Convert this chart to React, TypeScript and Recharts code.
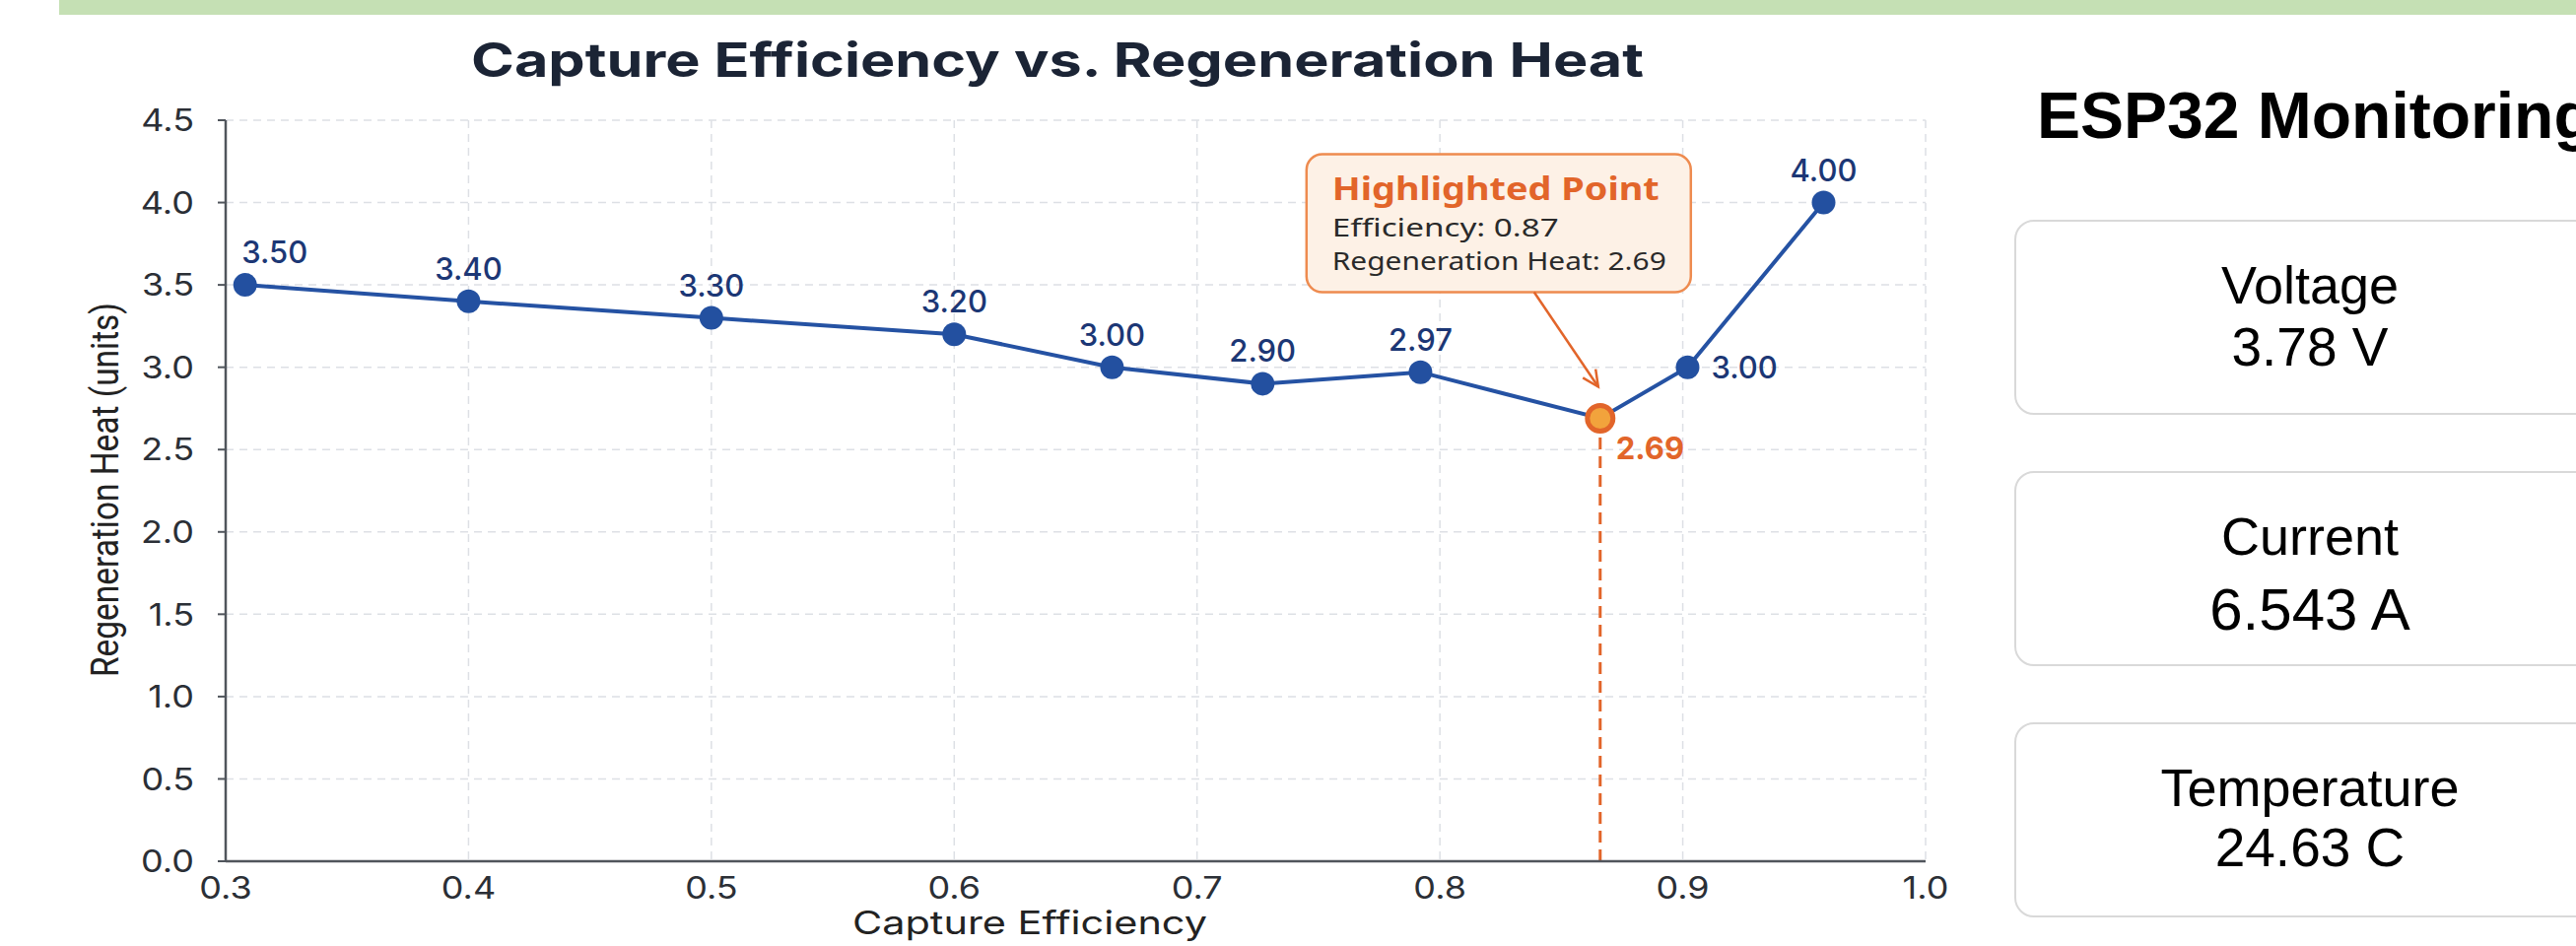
import {
  LineChart, Line, XAxis, YAxis, CartesianGrid, ReferenceLine, ReferenceDot,
} from 'recharts'

// ==================== Data ====================

const EFFICIENCY = [0.308, 0.4, 0.5, 0.6, 0.665, 0.727, 0.792, 0.866, 0.902, 0.958]
const REGEN_HEAT = [3.5, 3.4, 3.3, 3.2, 3.0, 2.9, 2.97, 2.69, 3.0, 4.0]
const X_TICKS = [0.3, 0.4, 0.5, 0.6, 0.7, 0.8, 0.9, 1.0]
const Y_TICKS = [0, 0.5, 1, 1.5, 2, 2.5, 3, 3.5, 4, 4.5]
const HIGHLIGHT_INDEX = 7

const READING_LABELS = ['Voltage', 'Current', 'Temperature']
const READING_VALUES = ['3.78 V', '6.543 A', '24.63 C']

const chartData = EFFICIENCY.map((e, i) => ({ efficiency: e, heat: REGEN_HEAT[i] }))
const highlight = chartData[HIGHLIGHT_INDEX]

// ==================== Styles ====================

const NAVY = '#1b2435'
const BLUE = '#2552a3'
const LABEL_BLUE = '#1c3775'
const ORANGE = '#e2652a'
const AXIS = '#50555c'
const GRID = '#dde0e5'
const TICK_STRETCH = 1.16
const SANS = 'Inter, "Noto Sans", sans-serif'
const ARIAL = '"Liberation Sans", Arial, sans-serif'

// label offsets per point (dx, baseline dy, anchor); default is centred above
const LABEL_POS: Record<number, { dx: number; dy: number; anchor: 'start' | 'middle' }> = {
  0: { dx: 30, dy: -22, anchor: 'middle' },
  8: { dx: 24, dy: 11, anchor: 'start' },
}

// ==================== Ticks ====================

function YTick({ x, y, payload }: any) {
  return (
    <text
      transform={`translate(${x},${y}) scale(${TICK_STRETCH},1)`}
      textAnchor="end" dy="0.36em"
      fontFamily={SANS} fontSize={31} fill="#2b2f36"
    >
      {Number(payload.value).toFixed(1)}
    </text>
  )
}

function XTick({ x, y, payload }: any) {
  return (
    <text
      transform={`translate(${x},${y + 36}) scale(${TICK_STRETCH},1)`}
      textAnchor="middle"
      fontFamily={SANS} fontSize={31} fill="#2b2f36"
    >
      {Number(payload.value).toFixed(1)}
    </text>
  )
}

// ==================== Points + labels ====================

function PointMark(props: any) {
  const { cx, cy, index, payload } = props
  if (cx == null || cy == null) return <g key={`pt-${index}`} />
  const text = Number(payload.heat).toFixed(2)

  if (index === HIGHLIGHT_INDEX) {
    return (
      <g key={`pt-${index}`}>
        <circle cx={cx} cy={cy} r={13} fill="#f2a33c" stroke={ORANGE} strokeWidth={5} />
        <text x={cx + 16} y={cy + 42} fill={ORANGE} fontFamily={SANS} fontWeight={700} fontSize={31}>
          {text}
        </text>
      </g>
    )
  }

  const pos = LABEL_POS[index] ?? { dx: 0, dy: -22, anchor: 'middle' }
  return (
    <g key={`pt-${index}`}>
      <circle cx={cx} cy={cy} r={12} fill="#2350a0" />
      <text
        x={cx + pos.dx} y={cy + pos.dy} textAnchor={pos.anchor}
        fill={LABEL_BLUE} fontFamily={SANS} fontWeight={500} fontSize={31}
      >
        {text}
      </text>
    </g>
  )
}

// ==================== Annotation ====================

function Annotation({ cx, cy }: any) {
  if (cx == null || cy == null) return null
  const sx = cx - 67, sy = cy - 128
  const tx = cx - 2, ty = cy - 32
  const a = Math.atan2(ty - sy, tx - sx)
  const L = 18, s = 0.45
  const h1 = `${tx - L * Math.cos(a - s)},${ty - L * Math.sin(a - s)}`
  const h2 = `${tx - L * Math.cos(a + s)},${ty - L * Math.sin(a + s)}`
  const left = cx - 272

  return (
    <g>
      <rect x={cx - 298} y={cy - 268} width={390} height={140} rx={16}
        fill="#fdf1e6" stroke="#ee8b4f" strokeWidth={2.5} />
      <text x={left} y={cy - 221} fill={ORANGE} fontFamily='"Noto Sans", sans-serif'
        fontWeight={700} fontSize={33} textLength={332} lengthAdjust="spacingAndGlyphs">
        Highlighted Point
      </text>
      <text x={left} y={cy - 184} fill="#2a2a2a" fontFamily='"Noto Sans", sans-serif'
        fontSize={26} textLength={230} lengthAdjust="spacingAndGlyphs">
        Efficiency: {highlight.efficiency.toFixed(2)}
      </text>
      <text x={left} y={cy - 150} fill="#2a2a2a" fontFamily='"Noto Sans", sans-serif'
        fontSize={26} textLength={339} lengthAdjust="spacingAndGlyphs">
        Regeneration Heat: {highlight.heat.toFixed(2)}
      </text>
      <line x1={sx} y1={sy} x2={tx} y2={ty} stroke={ORANGE} strokeWidth={2.5} />
      <polyline points={`${h1} ${tx},${ty} ${h2}`} fill="none" stroke={ORANGE} strokeWidth={2.5} />
    </g>
  )
}

// ==================== Monitoring panel ====================

const VALUE_SIZES = [55, 60, 55]
const VALUE_BASELINES = [149, 162, 147]

function MonitoringPanel() {
  return (
    <>
      <div style={{
        position: 'absolute', left: 2067, top: 84, fontFamily: ARIAL, fontWeight: 700,
        fontSize: 66, lineHeight: '66px', whiteSpace: 'nowrap', color: '#000',
      }}>
        ESP32 Monitoring
      </div>
      {READING_LABELS.map((label, i) => (
        <div key={label} style={{
          position: 'absolute', left: 2044, top: 223 + i * 255, width: 600, height: 198,
          boxSizing: 'border-box', border: '2px solid #d9d9d9', borderRadius: 20,
          background: '#fff', fontFamily: ARIAL, color: '#000', textAlign: 'center',
        }}>
          <div style={{ position: 'absolute', left: 0, right: 0, top: 85 - 0.8465 * 54 - 2,
            fontSize: 54, lineHeight: '54px' }}>
            {label}
          </div>
          <div style={{ position: 'absolute', left: 0, right: 0,
            top: VALUE_BASELINES[i] - 0.8465 * VALUE_SIZES[i] - 2,
            fontSize: VALUE_SIZES[i], lineHeight: `${VALUE_SIZES[i]}px` }}>
            {READING_VALUES[i]}
          </div>
        </div>
      ))}
    </>
  )
}

// ==================== App ====================

export default function App() {
  return (
    <div style={{
      position: 'absolute', left: 0, top: 0, width: 2614, height: 960,
      overflow: 'hidden', background: '#fff',
    }}>
      <div style={{ position: 'absolute', left: 60, top: 0, right: 0, height: 15, background: '#c5e0b4' }} />

      <div style={{ position: 'absolute', left: 0, top: 0 }}>
        <LineChart width={2000} height={960} data={chartData}
          margin={{ top: 122, right: 46, bottom: 0, left: 0 }}>
          <CartesianGrid stroke={GRID} strokeWidth={1.5} strokeDasharray="8 6" />
          <XAxis
            type="number" dataKey="efficiency" domain={[0.3, 1.0]} ticks={X_TICKS}
            height={86} tick={<XTick />} tickLine={false} tickSize={0}
            axisLine={{ stroke: AXIS, strokeWidth: 2.5 }}
          />
          <YAxis
            type="number" domain={[0, 4.5]} ticks={Y_TICKS} width={229}
            tick={<YTick />} tickSize={8} tickMargin={24}
            tickLine={{ stroke: AXIS, strokeWidth: 2 }}
            axisLine={{ stroke: AXIS, strokeWidth: 2.5 }}
          />
          <ReferenceLine
            segment={[{ x: highlight.efficiency, y: 0 }, { x: highlight.efficiency, y: highlight.heat }]}
            stroke={ORANGE} strokeWidth={3} strokeDasharray="12 7"
          />
          <ReferenceDot x={highlight.efficiency} y={highlight.heat} shape={<Annotation />} />
          <Line
            type="linear" dataKey="heat" stroke={BLUE} strokeWidth={4}
            dot={(p: any) => <PointMark key={`pt-${p.index}`} {...p} />}
            activeDot={false} isAnimationActive={false}
          />
        </LineChart>
      </div>

      <svg width={2000} height={960} style={{ position: 'absolute', left: 0, top: 0, pointerEvents: 'none' }}>
        <text x={478} y={78} fontFamily={SANS} fontWeight={700} fontSize={48} fill={NAVY}
          textLength={1190} lengthAdjust="spacingAndGlyphs">
          Capture Efficiency vs. Regeneration Heat
        </text>
        <text x={865} y={948} fontFamily={SANS} fontSize={33} fill="#222"
          textLength={360} lengthAdjust="spacingAndGlyphs">
          Capture Efficiency
        </text>
        <text transform="translate(120,497) rotate(-90)" textAnchor="middle"
          fontFamily='Roboto, "Liberation Sans", sans-serif' fontSize={38} fill="#222"
          textLength={380} lengthAdjust="spacingAndGlyphs">
          Regeneration Heat (units)
        </text>
      </svg>

      <MonitoringPanel />
    </div>
  )
}
